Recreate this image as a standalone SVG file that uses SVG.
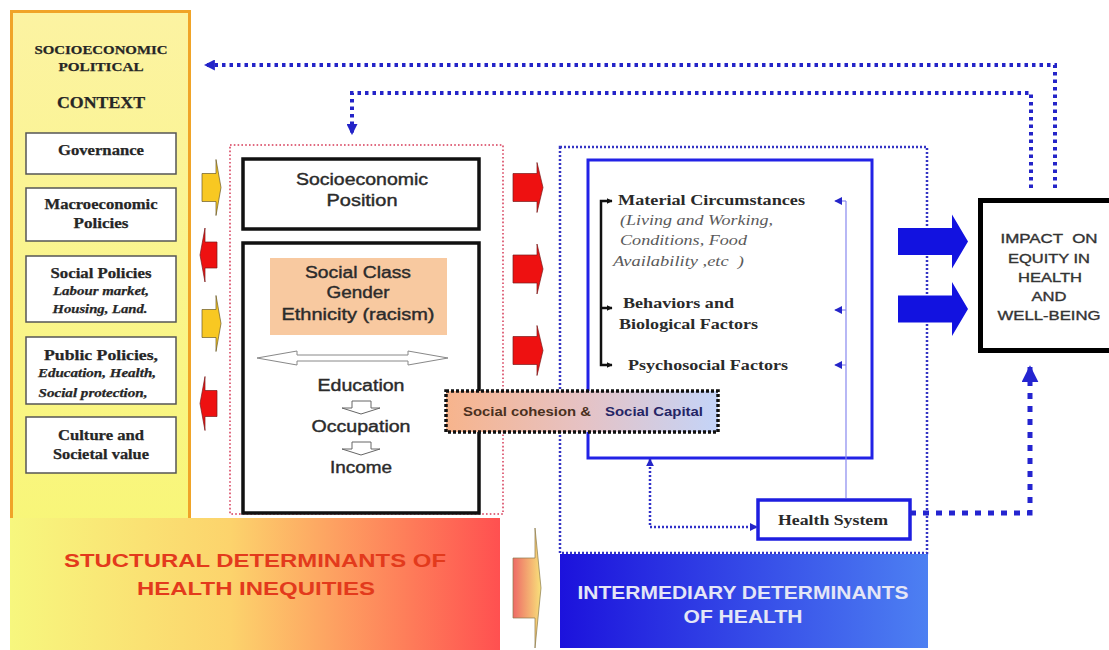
<svg xmlns="http://www.w3.org/2000/svg" width="1109" height="650" viewBox="0 0 1109 650">
<defs>
<style>
.lc{font-family:"Liberation Serif","Times New Roman",serif;font-weight:bold;fill:#262626;stroke:#262626;stroke-width:0.25;text-anchor:middle;}
.it{font-style:italic;}
.mid{font-family:"Liberation Sans",Arial,sans-serif;font-size:16px;fill:#2b2b2b;stroke:#2b2b2b;stroke-width:0.4;text-anchor:middle;}
.rt{font-family:"Liberation Serif","Times New Roman",serif;font-size:15px;font-weight:bold;fill:#2a2a2a;}
.rti{font-family:"Liberation Serif","Times New Roman",serif;font-size:15px;font-style:italic;fill:#5a5a5a;}
.imp{font-family:"Liberation Sans",Arial,sans-serif;font-size:13px;fill:#333;stroke:#333;stroke-width:0.35;text-anchor:middle;}
.ban{font-family:"Liberation Sans",Arial,sans-serif;font-size:19px;font-weight:bold;text-anchor:middle;}
.box{fill:#fff;stroke:#555;stroke-width:1.5;}
.blk{fill:#fff;stroke:#111;stroke-width:3.5;}
.dotTop{fill:none;stroke:#2424c8;stroke-width:4;stroke-dasharray:3.5 4;}
.dotBig{fill:none;stroke:#2424d0;stroke-width:5;stroke-dasharray:6 7;}
.dotSm{fill:none;stroke:#3030c8;stroke-width:2.5;stroke-dasharray:2 2;}
.thin{fill:none;stroke:#8888ee;stroke-width:1.2;}
.brk{fill:none;stroke:#111;stroke-width:2.5;}
.blueArr{fill:#1212e0;}
.redArr{fill:#ee1111;stroke:#7a1a1a;stroke-width:0.7;}
.yelArr{fill:#f8c822;stroke:#6a5a2a;stroke-width:0.7;}
</style>
<linearGradient id="gYel" x1="0" y1="0" x2="0" y2="1"><stop offset="0" stop-color="#fcf3a2"/><stop offset="1" stop-color="#f8f678"/></linearGradient>
<linearGradient id="gStruct" x1="0" y1="0" x2="1" y2="0"><stop offset="0" stop-color="#f7f77e"/><stop offset="0.45" stop-color="#fcd36c"/><stop offset="1" stop-color="#ff5050"/></linearGradient>
<linearGradient id="gInter" x1="0" y1="0" x2="1" y2="0"><stop offset="0" stop-color="#1c12dc"/><stop offset="1" stop-color="#4d80f2"/></linearGradient>
<linearGradient id="gCoh" x1="0" y1="0" x2="1" y2="0"><stop offset="0" stop-color="#f7b48c"/><stop offset="0.5" stop-color="#e6c2c4"/><stop offset="1" stop-color="#c4d4f8"/></linearGradient>
<linearGradient id="gArr" x1="0" y1="0" x2="1" y2="0"><stop offset="0" stop-color="#ee6a66"/><stop offset="1" stop-color="#f8e07a"/></linearGradient>
<marker id="ahT" viewBox="0 0 10 10" refX="9" refY="5" markerWidth="11" markerHeight="11" markerUnits="userSpaceOnUse" orient="auto-start-reverse"><path d="M0,0 L10,5 L0,10 z" fill="#2424c8"/></marker>
<marker id="ahB" viewBox="0 0 10 10" refX="9" refY="5" markerWidth="17" markerHeight="17" markerUnits="userSpaceOnUse" orient="auto"><path d="M0,0 L10,5 L0,10 z" fill="#2424d0"/></marker>
<marker id="ahS" viewBox="0 0 10 10" refX="9" refY="5" markerWidth="8" markerHeight="8" markerUnits="userSpaceOnUse" orient="auto-start-reverse"><path d="M0,0 L10,5 L0,10 z" fill="#2424c8"/></marker>
<marker id="ahK" viewBox="0 0 10 10" refX="9" refY="5" markerWidth="6" markerHeight="6" markerUnits="userSpaceOnUse" orient="auto-start-reverse"><path d="M0,0 L10,5 L0,10 z" fill="#111"/></marker>
<path id="redR" d="M0,-14 H24 V-25 L30,0 L24,25 V14 H0 Z"/>
<path id="yelR" d="M0,-14 H14 V-28 L19,0 L14,28 V14 H0 Z"/>
<path id="redL" d="M17,-13 H5 V-27 L0,0 L5,27 V13 H17 Z"/>
<path id="blueR" d="M0,-13.5 H54 V-27 L70,0 L54,27 V13.5 H0 Z"/>
</defs>

<rect width="1109" height="650" fill="#fff"/>

<g id="context">
<rect x="11.5" y="11.5" width="178" height="520" fill="url(#gYel)" stroke="#f0a428" stroke-width="3"/>
<text class="lc" x="101" y="54" font-size="13" textLength="133" lengthAdjust="spacingAndGlyphs">SOCIOECONOMIC</text>
<text class="lc" x="101" y="71" font-size="13" textLength="85" lengthAdjust="spacingAndGlyphs">POLITICAL</text>
<text class="lc" x="101" y="108" font-size="16" textLength="88" lengthAdjust="spacingAndGlyphs">CONTEXT</text>
</g>
<g id="governance">
<rect class="box" x="26" y="133" width="150" height="41"/>
<text class="lc" x="101" y="155" font-size="14" textLength="86" lengthAdjust="spacingAndGlyphs">Governance</text>
</g>
<g id="macro">
<rect class="box" x="26" y="188" width="150" height="53"/>
<text class="lc" x="101" y="209" font-size="14" textLength="113" lengthAdjust="spacingAndGlyphs">Macroeconomic</text>
<text class="lc" x="101" y="228" font-size="14" textLength="55" lengthAdjust="spacingAndGlyphs">Policies</text>
</g>
<g id="social-policies">
<rect class="box" x="26" y="256" width="150" height="66"/>
<text class="lc" x="101" y="278" font-size="14" textLength="101" lengthAdjust="spacingAndGlyphs">Social Policies</text>
<text class="lc it" x="101" y="295" font-size="13" textLength="96" lengthAdjust="spacingAndGlyphs">Labour market,</text>
<text class="lc it" x="100" y="313" font-size="13" textLength="95" lengthAdjust="spacingAndGlyphs">Housing, Land.</text>
</g>
<g id="public-policies">
<rect class="box" x="26" y="337" width="150" height="67"/>
<text class="lc" x="101" y="360" font-size="15" textLength="114" lengthAdjust="spacingAndGlyphs">Public Policies,</text>
<text class="lc it" x="97" y="377" font-size="12" textLength="118" lengthAdjust="spacingAndGlyphs">Education, Health,</text>
<text class="lc it" x="93" y="397" font-size="12" textLength="109" lengthAdjust="spacingAndGlyphs">Social protection,</text>
</g>
<g id="culture">
<rect class="box" x="26" y="417" width="150" height="56"/>
<text class="lc" x="101" y="440" font-size="14" textLength="86" lengthAdjust="spacingAndGlyphs">Culture and</text>
<text class="lc" x="101" y="459" font-size="14" textLength="96" lengthAdjust="spacingAndGlyphs">Societal value</text>
</g>

<g id="structural-banner">
<rect x="10" y="518" width="490" height="132" fill="url(#gStruct)"/>
<text class="ban" x="255" y="567" fill="#e33a1c" textLength="382" lengthAdjust="spacingAndGlyphs">STUCTURAL DETERMINANTS OF</text>
<text class="ban" x="256" y="595" fill="#e33a1c" textLength="238" lengthAdjust="spacingAndGlyphs">HEALTH INEQUITIES</text>
</g>

<g id="structural-frame">
<rect x="230" y="145" width="273" height="369" fill="none" stroke="#e06a80" stroke-width="2" stroke-dasharray="1.6 2.2"/>
</g>
<g id="socioeconomic-position">
<rect class="blk" x="243" y="159" width="236" height="70"/>
<text class="mid" x="362" y="185" textLength="132" lengthAdjust="spacingAndGlyphs">Socioeconomic</text>
<text class="mid" x="362" y="206" textLength="71" lengthAdjust="spacingAndGlyphs">Position</text>
</g>
<g id="position-detail">
<rect class="blk" x="243" y="243" width="236" height="270"/>
<rect x="270" y="258" width="177" height="77" fill="#f8c9a0"/>
<text class="mid" x="358" y="278" textLength="106" lengthAdjust="spacingAndGlyphs">Social Class</text>
<text class="mid" x="358" y="298" textLength="63" lengthAdjust="spacingAndGlyphs">Gender</text>
<text class="mid" x="358" y="320" textLength="153" lengthAdjust="spacingAndGlyphs">Ethnicity (racism)</text>
<path d="M257,358 L297,351 L297,355 L408,355 L408,351 L448,358 L408,365 L408,361 L297,361 L297,365 Z" fill="#fff" stroke="#888" stroke-width="1"/>
<text class="mid" x="361" y="391" textLength="87" lengthAdjust="spacingAndGlyphs">Education</text>
<path d="M352,401 H371 V408 H380 L361,414 L342,408 H352 Z" fill="#fff" stroke="#666" stroke-width="1"/>
<text class="mid" x="361" y="432" textLength="99" lengthAdjust="spacingAndGlyphs">Occupation</text>
<path d="M352,442 H371 V449 H380 L361,455 L342,449 H352 Z" fill="#fff" stroke="#666" stroke-width="1"/>
<text class="mid" x="361" y="473" textLength="62" lengthAdjust="spacingAndGlyphs">Income</text>
</g>

<g id="intermediary-frame">
<rect x="560" y="147" width="367" height="406" fill="none" stroke="#3434c4" stroke-width="2.5" stroke-dasharray="2 2"/>
</g>
<g id="intermediary-factors">
<rect x="588" y="160" width="284" height="298" fill="#fff" stroke="#2222e6" stroke-width="3"/>
<text class="rt" x="618" y="205" font-size="16" textLength="187" lengthAdjust="spacingAndGlyphs">Material Circumstances</text>
<text class="rti" x="620" y="225" textLength="153" lengthAdjust="spacingAndGlyphs">(Living and Working,</text>
<text class="rti" x="620" y="245" textLength="127" lengthAdjust="spacingAndGlyphs">Conditions, Food</text>
<text class="rti" x="613" y="266" textLength="131" lengthAdjust="spacingAndGlyphs" xml:space="preserve">Availability ,etc  )</text>
<text class="rt" x="623" y="308" font-size="16" textLength="111" lengthAdjust="spacingAndGlyphs">Behaviors and</text>
<text class="rt" x="619" y="329" font-size="16" textLength="139" lengthAdjust="spacingAndGlyphs">Biological Factors</text>
<text class="rt" x="628" y="370" font-size="16" textLength="160" lengthAdjust="spacingAndGlyphs">Psychosocial Factors</text>
</g>

<g id="social-cohesion">
<rect x="446" y="391" width="272" height="41" fill="url(#gCoh)" stroke="#111" stroke-width="3.5" stroke-dasharray="3 2"/>
<text font-family="Liberation Sans, Arial, sans-serif" font-size="12.5" font-weight="bold" y="416"><tspan x="463" fill="#4a3020" textLength="128" lengthAdjust="spacingAndGlyphs">Social cohesion &amp;</tspan><tspan x="605" fill="#252565" textLength="98" lengthAdjust="spacingAndGlyphs">Social Capital</tspan></text>
</g>

<g id="health-system">
<rect x="758" y="500" width="152" height="39" fill="#fff" stroke="#1e1ee0" stroke-width="3.5"/>
<text class="rt" x="778" y="525" font-size="16" textLength="110" lengthAdjust="spacingAndGlyphs">Health System</text>
</g>

<g id="impact">
<rect x="980.5" y="200.5" width="140" height="150" fill="#fff" stroke="#000" stroke-width="5"/>
<text class="imp" x="1049" y="243" textLength="97" lengthAdjust="spacingAndGlyphs" xml:space="preserve">IMPACT  ON</text>
<text class="imp" x="1049" y="263" textLength="82" lengthAdjust="spacingAndGlyphs">EQUITY IN</text>
<text class="imp" x="1050" y="282" textLength="64" lengthAdjust="spacingAndGlyphs">HEALTH</text>
<text class="imp" x="1049" y="301" textLength="35" lengthAdjust="spacingAndGlyphs">AND</text>
<text class="imp" x="1049" y="320" textLength="103" lengthAdjust="spacingAndGlyphs">WELL-BEING</text>
</g>

<g id="intermediary-banner">
<rect x="560" y="554" width="368" height="94" fill="url(#gInter)"/>
<text class="ban" x="743" y="599" font-size="17" fill="#e4e6f6" textLength="331" lengthAdjust="spacingAndGlyphs">INTERMEDIARY DETERMINANTS</text>
<text class="ban" x="743" y="623" font-size="17" fill="#e4e6f6" textLength="119" lengthAdjust="spacingAndGlyphs">OF HEALTH</text>
</g>

<g id="connectors">
<path class="dotTop" d="M1055,188 V65 H205" marker-end="url(#ahT)"/>
<path class="dotTop" d="M1031,188 V93 H352 V134" marker-end="url(#ahT)"/>
<path class="dotBig" d="M910,513 H1030 V367" marker-end="url(#ahB)"/>
<path class="dotSm" d="M650,459 V527 H757" marker-start="url(#ahS)" marker-end="url(#ahS)"/>
<path class="thin" d="M846,498 V201"/>
<path class="thin" d="M846,201 H835" marker-end="url(#ahS)"/>
<path class="thin" d="M846,310 H835" marker-end="url(#ahS)"/>
<path class="thin" d="M846,365 H835" marker-end="url(#ahS)"/>
<path class="brk" d="M612,201 H601 V365 H612" marker-start="url(#ahK)" marker-end="url(#ahK)"/>
<path class="brk" d="M601,308 H612" marker-end="url(#ahK)"/>
<use href="#yelR" class="yelArr" transform="translate(202,187.5)"/>
<use href="#redL" class="redArr" transform="translate(200,255)"/>
<use href="#yelR" class="yelArr" transform="translate(202,323.5)"/>
<use href="#redL" class="redArr" transform="translate(200,403.5)"/>
<use href="#redR" class="redArr" transform="translate(513,187.5)"/>
<use href="#redR" class="redArr" transform="translate(513,269)"/>
<use href="#redR" class="redArr" transform="translate(513,350.5)"/>
<use href="#blueR" class="blueArr" transform="translate(898,241.5)"/>
<use href="#blueR" class="blueArr" transform="translate(898,309)"/>
<path d="M513,558 H535 V528 L541,588 L535,648 V618 H513 Z" fill="url(#gArr)" stroke="#8a7a4a" stroke-width="0.7"/>
</g>
</svg>
